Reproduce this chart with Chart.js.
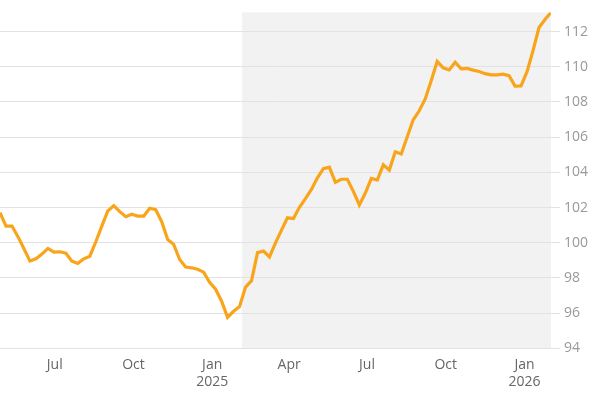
<!DOCTYPE html>
<html>
<head>
<meta charset="utf-8">
<script src="https://cdn.jsdelivr.net/npm/chart.js@4"></script>
<style>
  html, body { margin: 0; padding: 0; background: #fff; }
  #wrap { width: 600px; height: 400px; }
</style>
</head>
<body>
<div id="wrap"><canvas id="myChart1"></canvas></div>
<script>
// weekly series, first week and values
var firstWeek = '2024-04-28';
var values = [
  101.71, 100.95, 100.95, 100.35, 99.66, 98.96, 99.09, 99.36, 99.68, 99.47,
  99.49, 99.41, 98.96, 98.83, 99.09, 99.24, 100.06, 100.95, 101.81, 102.11,
  101.77, 101.48, 101.62, 101.52, 101.52, 101.96, 101.88, 101.20, 100.19, 99.91,
  99.05, 98.62, 98.58, 98.50, 98.33, 97.76, 97.36, 96.68, 95.77, 96.11,
  96.38, 97.48, 97.85, 99.44, 99.53, 99.20, 100.00, 100.72, 101.42, 101.38,
  102.02, 102.51, 103.03, 103.69, 104.21, 104.30, 103.44, 103.61, 103.61, 102.92,
  102.15, 102.83, 103.66, 103.56, 104.43, 104.13, 105.17, 105.05, 106.02, 106.99,
  107.50, 108.17, 109.21, 110.31, 109.94, 109.82, 110.26, 109.88, 109.91, 109.81,
  109.73, 109.61, 109.54, 109.54, 109.58, 109.50, 108.90, 108.91, 109.72, 110.92,
  112.23, 112.69, 113.09
];
// x-axis ticks (quarter starts) and their labels
var tickDates = ['2024-07-01', '2024-10-01', '2025-01-01', '2025-04-01', '2025-07-01', '2025-10-01', '2026-01-01'];
var tickLabels = [['Jul'], ['Oct'], ['Jan', '2025'], ['Apr'], ['Jul'], ['Oct'], ['Jan', '2026']];
var yTicks = [94, 96, 98, 100, 102, 104, 106, 108, 110, 112];
var shadeFrom = '2025-02-05';

function dayNum(s) {
  var p = s.split('-');
  return Date.UTC(+p[0], +p[1] - 1, +p[2]) / 86400000;
}

var start = dayNum(firstWeek);
var points = values.map(function (v, i) { return { x: start + 7 * i, y: v }; });
var tickDays = tickDates.map(dayNum);

var shadePlugin = {
  id: 'shade',
  beforeDraw: function (chart) {
    var c = chart.ctx, a = chart.chartArea;
    var x0 = chart.scales.x.getPixelForValue(dayNum(shadeFrom));
    c.save();
    c.fillStyle = '#f2f2f2';
    c.fillRect(x0, a.top, a.right - x0, a.bottom - a.top);
    c.restore();
  }
};

var ctx = document.getElementById('myChart1');
var myChart = new Chart(ctx, {
  type: 'line',
  data: {
    datasets: [{
      data: points,
      borderColor: '#f8a51b',
      borderWidth: 3.2,
      pointRadius: 0,
      fill: false,
      tension: 0
    }]
  },
  options: {
    responsive: true,
    maintainAspectRatio: false,
    animation: false,
    layout: { padding: { top: 12, right: 8, left: 0, bottom: 10 } },
    plugins: { legend: { display: false }, tooltip: { enabled: false } },
    scales: {
      x: {
        type: 'linear',
        min: points[0].x,
        max: points[points.length - 1].x,
        afterBuildTicks: function (axis) {
          axis.ticks = tickDays.map(function (d) { return { value: d }; });
        },
        ticks: {
          autoSkip: false,
          maxRotation: 0,
          padding: 0,
          color: '#666',
          font: { family: 'Open Sans', size: 14 },
          callback: function (value) {
            var k = tickDays.indexOf(value);
            return k >= 0 ? tickLabels[k] : '';
          }
        },
        grid: { display: false },
        border: { display: false }
      },
      y: {
        position: 'right',
        min: 94,
        max: 113.09,
        afterBuildTicks: function (axis) {
          axis.ticks = yTicks.map(function (v) { return { value: v }; });
        },
        ticks: {
          padding: 4,
          color: '#999',
          font: { family: 'Open Sans', size: 14 }
        },
        grid: { color: '#e2e2e2', lineWidth: 1, tickLength: 9 },
        border: { display: false }
      }
    }
  },
  plugins: [shadePlugin]
});
</script>
</body>
</html>
